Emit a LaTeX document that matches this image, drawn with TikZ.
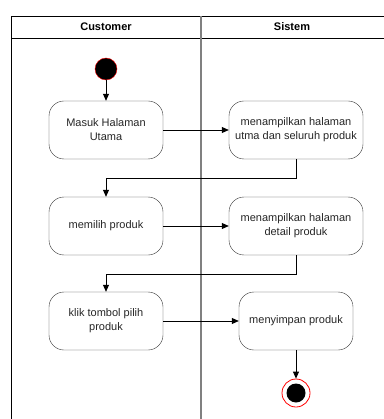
\documentclass[tikz,border=0pt]{standalone}
\usepackage{fontspec}
\setmainfont{Liberation Sans}
\usetikzlibrary{arrows.meta}

\begin{document}
\begin{tikzpicture}[x=1pt, y=-1pt,
        act/.style={draw=black!80, rounded corners=15pt, minimum width=114pt,
            minimum height=58pt, align=center, text=black!85, inner sep=2pt,
            font=\fontsize{11}{14}\selectfont},
        wideact/.style={act, minimum width=134pt},
        flow/.style={-{Triangle[length=7pt, width=6pt]}, thick}]
        \pgfmathsetmacro{\laneX}{201}

        \useasboundingbox (0, 0) rectangle (383, 419);

        % swimlanes
        \draw[thick] (11, 425) -- (11, 16) -- (390, 16);
        \draw[thick] (11, 38) -- (390, 38);
        \draw[gray, line width=1.6pt] (\laneX, 16) -- (\laneX, 425);
        \node[font=\fontsize{11}{14}\selectfont\bfseries] (hcust) at (106, 27) {Customer};
        \node[font=\fontsize{11}{14}\selectfont\bfseries] (hsys) at (292, 27) {Sistem};

        % states
        \node[circle, fill=black, draw=red, inner sep=0pt, minimum size=22pt] (start) at (106, 69) {};
        \node[act] (masuk) at (106, 130) {Masuk Halaman\\Utama};
        \node[wideact] (tampil) at (296, 130) {menampilkan halaman\\utma dan seluruh produk};
        \node[act] (pilih) at (106, 226) {memilih produk};
        \node[wideact] (detail) at (296, 226) {menampilkan halaman\\detail produk};
        \node[act] (klik) at (106, 321) {klik tombol pilih\\produk};
        \node[act] (simpan) at (296, 321) {menyimpan produk};
        \node[circle, draw=red, thick, inner sep=0pt, minimum size=28pt] (stop) at (296, 393) {};
        \node[circle, fill=black, inner sep=0pt, minimum size=19pt] (stopdot) at (stop) {};

        % transitions
        \draw[flow] (start) -- (masuk);
        \draw[flow] (masuk) -- (tampil);
        \draw[flow] (tampil.south) -- ++(0, 19) -| (pilih.north);
        \draw[flow] (pilih) -- (detail);
        \draw[flow] (detail.south) -- ++(0, 19) -| (klik.north);
        \draw[flow] (klik) -- (simpan);
        \draw[flow] (simpan) -- (stop);

    \end{tikzpicture}
\end{document}
